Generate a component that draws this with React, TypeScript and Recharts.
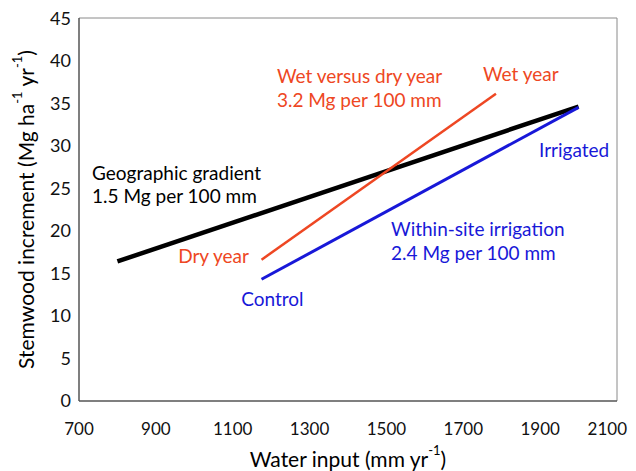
import React from "react";
import { LineChart, Line, XAxis, YAxis, ReferenceLine, ReferenceDot } from "recharts";

const xTicks = [700, 900, 1100, 1300, 1500, 1700, 1900, 2100];
const yTicks = [0, 5, 10, 15, 20, 25, 30, 35, 40, 45];

const geographic = [
  { x: 800, y: 16.4 },
  { x: 2000, y: 34.6 },
];
const wetDry = [
  { x: 1175, y: 16.6 },
  { x: 1785, y: 36.1 },
];
const irrigation = [
  { x: 1175, y: 14.3 },
  { x: 2000, y: 34.5 },
];

const RED = "#EE4723";
const BLUE = "#1818D8";
const BLACK = "#000000";

const annotations = [
  { x: 1215, y: 38.2, text: "Wet versus dry year", color: RED },
  { x: 1215, y: 35.4, text: "3.2 Mg per 100 mm", color: RED },
  { x: 1751, y: 38.5, text: "Wet year", color: RED },
  { x: 1897, y: 29.5, text: "Irrigated", color: BLUE },
  { x: 734, y: 26.9, text: "Geographic gradient", color: BLACK },
  { x: 734, y: 24.1, text: "1.5 Mg per 100 mm", color: BLACK },
  { x: 958, y: 17.15, text: "Dry year", color: RED },
  { x: 1122, y: 12.0, text: "Control", color: BLUE },
  { x: 1512, y: 20.3, text: "Within-site irrigation", color: BLUE },
  { x: 1512, y: 17.5, text: "2.4 Mg per 100 mm", color: BLUE },
];

const FONT = "Lato, 'Open Sans', sans-serif";
const CHART_W = 628;
const CHART_H = 463;

const XTick = (props: any) => {
  const { x, y, payload } = props;
  const half = 19;
  const limit = CHART_W - 9;
  const overflow = x + half > limit;
  return (
    <text
      x={overflow ? limit : x}
      y={y}
      dy="0.71em"
      textAnchor={overflow ? "end" : "middle"}
      fill="#111"
      fontSize={17}
      fontFamily={FONT}
    >
      {payload.value}
    </text>
  );
};

const AnnLabel = (props: any) => {
  const { viewBox, value, fill } = props;
  return (
    <text
      x={viewBox.x}
      y={viewBox.y}
      fill={fill}
      fontSize={19}
      fontFamily={FONT}
      textAnchor="start"
      dominantBaseline="central"
    >
      {value}
    </text>
  );
};

const YTitle = (props: any) => {
  const { viewBox } = props;
  const cx = 17;
  const cy = viewBox.y + viewBox.height / 2;
  return (
    <text
      x={cx}
      y={cy}
      transform={`rotate(-90, ${cx}, ${cy})`}
      textAnchor="middle"
      dominantBaseline="central"
      fontSize={21}
      fontFamily={FONT}
      fill="#000"
    >
      Stemwood increment (Mg ha
      <tspan fontSize={13} dy={-8}>-1</tspan>
      <tspan dy={8}> yr</tspan>
      <tspan fontSize={13} dy={-8}>-1</tspan>
      <tspan dy={8}>)</tspan>
    </text>
  );
};

const XTitle = (props: any) => {
  const { viewBox } = props;
  const cx = viewBox.x + viewBox.width / 2;
  const cy = 450;
  return (
    <text
      x={cx}
      y={cy}
      textAnchor="middle"
      dominantBaseline="central"
      fontSize={21}
      fontFamily={FONT}
      fill="#000"
    >
      Water input (mm yr
      <tspan fontSize={13} dy={-8}>-1</tspan>
      <tspan dy={8}>)</tspan>
    </text>
  );
};

export default function App() {
  return (
    <div style={{ width: CHART_W, height: CHART_H }}>
      <LineChart
        width={CHART_W}
        height={CHART_H}
        margin={{ top: 10, right: 19, bottom: 0, left: 0 }}
      >
        <XAxis
          type="number"
          dataKey="x"
          domain={[700, 2100]}
          ticks={xTicks}
          allowDataOverflow
          tickLine={false}
          tickMargin={16}
          height={70}
          stroke="#555"
          strokeWidth={1.5}
          tick={<XTick />}
          label={<XTitle />}
        />
        <YAxis
          type="number"
          dataKey="y"
          domain={[0, 45]}
          ticks={yTicks}
          allowDataOverflow
          tickLine={false}
          width={71}
          stroke="#555"
          strokeWidth={1.5}
          tick={{ fill: "#111", fontSize: 18, fontFamily: FONT }}
          label={<YTitle />}
        />
        <ReferenceLine y={45} stroke="#8a8a8a" strokeWidth={1} />
        <ReferenceLine x={2100} stroke="#8a8a8a" strokeWidth={1} />
        <Line
          data={geographic}
          dataKey="y"
          stroke={BLACK}
          strokeWidth={4.5}
          dot={false}
          isAnimationActive={false}
        />
        <Line
          data={irrigation}
          dataKey="y"
          stroke={BLUE}
          strokeWidth={3}
          dot={false}
          isAnimationActive={false}
        />
        <Line
          data={wetDry}
          dataKey="y"
          stroke={RED}
          strokeWidth={2.5}
          dot={false}
          isAnimationActive={false}
        />
        {annotations.map((a, i) => (
          <ReferenceDot
            key={i}
            x={a.x}
            y={a.y}
            r={0}
            stroke="none"
            fill="none"
            label={<AnnLabel value={a.text} fill={a.color} />}
          />
        ))}
      </LineChart>
    </div>
  );
}
